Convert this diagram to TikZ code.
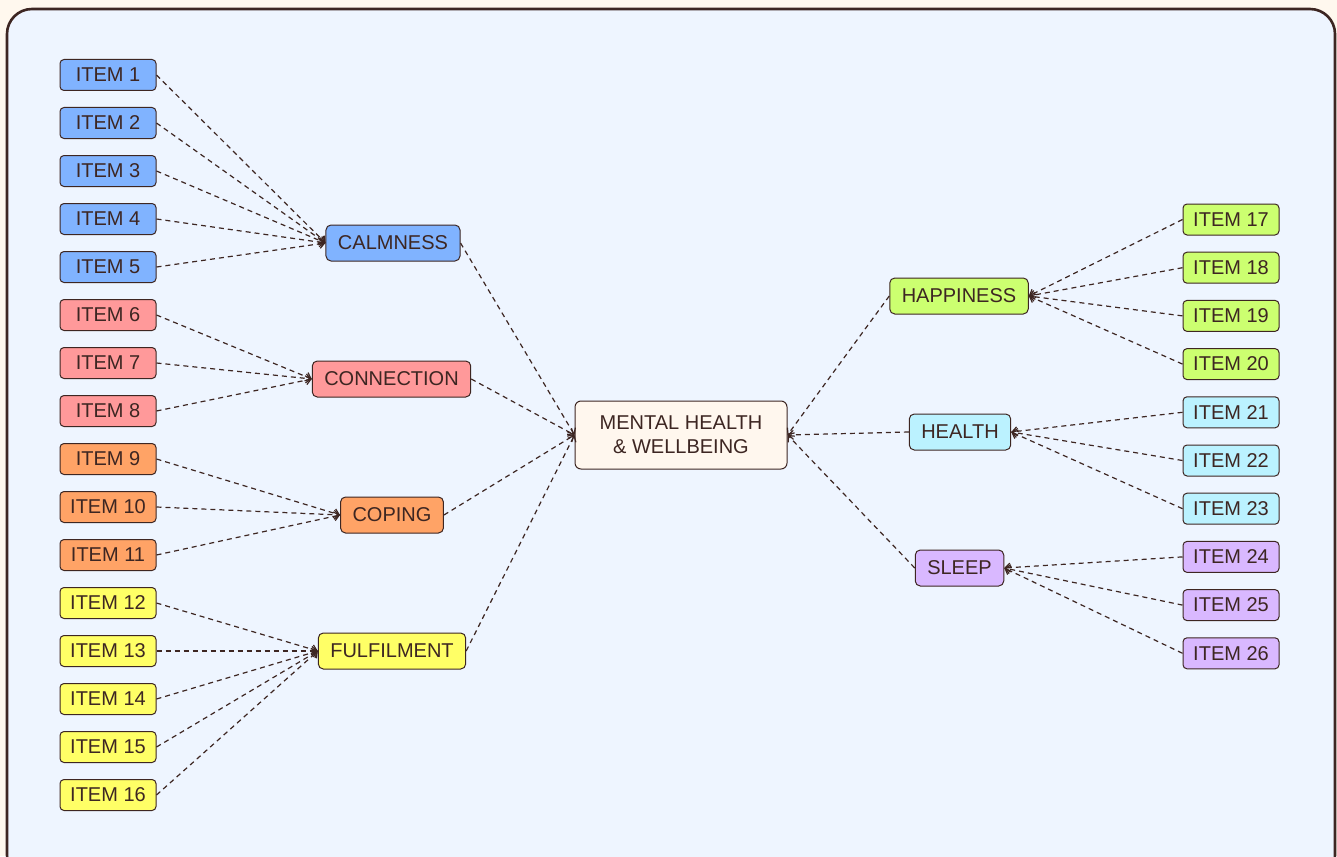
\documentclass[tikz,border=0pt]{standalone}
\usepackage{fontspec}
\setmainfont{Liberation Sans}
\usepackage{tikz}
\usetikzlibrary{arrows.meta}

\definecolor{pagecream}{HTML}{FFF8EE}
\definecolor{framefill}{HTML}{EEF5FF}
\definecolor{ink}{HTML}{3D2622}
\definecolor{calmblue}{HTML}{80B3FF}
\definecolor{connred}{HTML}{FF999A}
\definecolor{copeorange}{HTML}{FFA366}
\definecolor{fulfilyellow}{HTML}{FFFF66}
\definecolor{happygreen}{HTML}{CCFF70}
\definecolor{healthcyan}{HTML}{BBF2FF}
\definecolor{sleeppurple}{HTML}{D9B8FF}
\definecolor{centrecream}{HTML}{FFF7EE}

\begin{document}
\begin{tikzpicture}[x=0.5pt, y=-0.5pt, node distance=24pt, >={Straight Barb[length=2.5pt,width=4.5pt]},
                    font=\fontsize{10}{12}\selectfont, text=ink,
                    item node/.style={rectangle,rounded corners=2pt,draw=ink,line width=0.5pt,
                                      minimum width=48pt,minimum height=15.5pt,inner sep=0pt},
                    group node/.style={rectangle,rounded corners=2.5pt,draw=ink,line width=0.5pt,
                                       minimum height=18pt,inner xsep=6pt,inner ysep=0pt},
                    centre node/.style={rectangle,rounded corners=3pt,draw=ink,line width=0.5pt,fill=centrecream,
                                        align=center,minimum width=106pt,minimum height=34pt,inner sep=0pt},
                    link/.style={->,dash pattern=on 2.5pt off 2pt,draw=ink,line width=0.6pt}]

  \useasboundingbox (0,0) rectangle (1337,856);
  \fill[pagecream] (0,0) rectangle (1337,856);
  \begin{scope}
    \clip (0,0) rectangle (1337,856);
    \draw[ink,fill=framefill,line width=1.3pt,rounded corners=12.5pt] (7,9) rectangle (1335,880);
  \end{scope}

  % left items
  \node[item node,fill=calmblue] (1) at (108,75) {ITEM 1};
  \node[item node,fill=calmblue] (2) [below of=1] {ITEM 2};
  \node[item node,fill=calmblue] (3) [below of=2] {ITEM 3};
  \node[item node,fill=calmblue] (4) [below of=3] {ITEM 4};
  \node[item node,fill=calmblue] (5) [below of=4] {ITEM 5};
  \node[item node,fill=connred] (6) [below of=5] {ITEM 6};
  \node[item node,fill=connred] (7) [below of=6] {ITEM 7};
  \node[item node,fill=connred] (8) [below of=7] {ITEM 8};
  \node[item node,fill=copeorange] (9) [below of=8] {ITEM 9};
  \node[item node,fill=copeorange] (10) [below of=9] {ITEM 10};
  \node[item node,fill=copeorange] (11) [below of=10] {ITEM 11};
  \node[item node,fill=fulfilyellow] (12) [below of=11] {ITEM 12};
  \node[item node,fill=fulfilyellow] (13) [below of=12] {ITEM 13};
  \node[item node,fill=fulfilyellow] (14) [below of=13] {ITEM 14};
  \node[item node,fill=fulfilyellow] (15) [below of=14] {ITEM 15};
  \node[item node,fill=fulfilyellow] (16) [below of=15] {ITEM 16};

  % right items
  \begin{scope}[node distance=24.1pt]
  \node[item node,fill=happygreen] (17) at (1231,219.5) {ITEM 17};
  \node[item node,fill=happygreen] (18) [below of=17] {ITEM 18};
  \node[item node,fill=happygreen] (19) [below of=18] {ITEM 19};
  \node[item node,fill=happygreen] (20) [below of=19] {ITEM 20};
  \node[item node,fill=healthcyan] (21) [below of=20] {ITEM 21};
  \node[item node,fill=healthcyan] (22) [below of=21] {ITEM 22};
  \node[item node,fill=healthcyan] (23) [below of=22] {ITEM 23};
  \node[item node,fill=sleeppurple] (24) [below of=23] {ITEM 24};
  \node[item node,fill=sleeppurple] (25) [below of=24] {ITEM 25};
  \node[item node,fill=sleeppurple] (26) [below of=25] {ITEM 26};
  \end{scope}

  % groups and centre
  \node[group node,fill=calmblue] (calm) at (393,243) {CALMNESS};
  \node[group node,fill=connred] (conn) at (391.5,379) {CONNECTION};
  \node[group node,fill=copeorange] (cope) at (392,515) {COPING};
  \node[group node,fill=fulfilyellow] (fulfil) at (392,651) {FULFILMENT};
  \node[group node,fill=happygreen] (happy) at (959,296) {HAPPINESS};
  \node[group node,fill=healthcyan] (health) at (960,432) {HEALTH};
  \node[group node,fill=sleeppurple] (sleep) at (959.5,568) {SLEEP};
  \node[centre node] (mh) at (681,435) {MENTAL HEALTH\\\& WELLBEING};

  \path[every edge/.style={link}]
    (1.east) edge (calm.west)
    (2.east) edge (calm.west)
    (3.east) edge (calm.west)
    (4.east) edge (calm.west)
    (5.east) edge (calm.west)
    (6.east) edge (conn.west)
    (7.east) edge (conn.west)
    (8.east) edge (conn.west)
    (9.east) edge (cope.west)
    (10.east) edge (cope.west)
    (11.east) edge (cope.west)
    (12.east) edge (fulfil.west)
    (13.east) edge (fulfil.west)
    (14.east) edge (fulfil.west)
    (15.east) edge (fulfil.west)
    (16.east) edge (fulfil.west)
    (17.west) edge (happy.east)
    (18.west) edge (happy.east)
    (19.west) edge (happy.east)
    (20.west) edge (happy.east)
    (21.west) edge (health.east)
    (22.west) edge (health.east)
    (23.west) edge (health.east)
    (24.west) edge (sleep.east)
    (25.west) edge (sleep.east)
    (26.west) edge (sleep.east)
    (calm.east) edge (mh.west)
    (conn.east) edge (mh.west)
    (cope.east) edge (mh.west)
    (fulfil.east) edge (mh.west)
    (happy.west) edge (mh.east)
    (health.west) edge (mh.east)
    (sleep.west) edge (mh.east);
\end{tikzpicture}
\end{document}
